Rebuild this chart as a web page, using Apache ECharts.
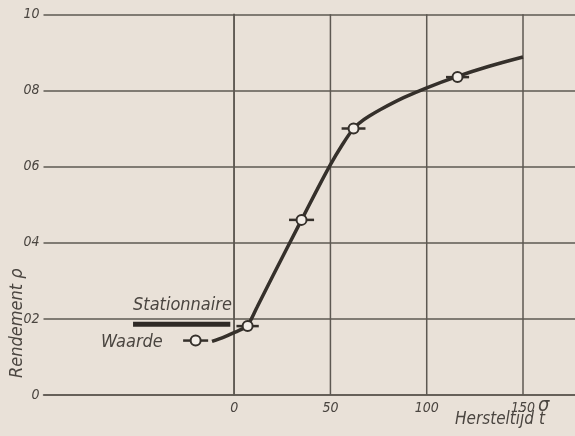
<!DOCTYPE html>
<html>
<head>
<meta charset="utf-8">
<script src="https://cdn.jsdelivr.net/npm/echarts@6/dist/echarts.min.js"></script>
<style>
  html, body { margin: 0; padding: 0; background: #e9e1d8; }
  #chart { width: 575px; height: 436px; }
</style>
</head>
<body>
<div id="chart"></div>
<script>
// Recovery curve: efficiency rho against recovery time t
const curveT   = [-11.5, -5,    0,     4,     7,     12,    20,    35,   42,    50,    56,    62,   66,    70,    76,    88,    100,   116,   132,   150];
const curveRho = [0.141, 0.153, 0.164, 0.173, 0.183, 0.232, 0.312, 0.46, 0.529, 0.605, 0.656, 0.70, 0.718, 0.732, 0.750, 0.781, 0.807, 0.837, 0.863, 0.888];

// Measured points with their horizontal spread in t
const pointT      = [-20,   7,     35,   62,   116];
const pointRho    = [0.143, 0.181, 0.46, 0.70, 0.835];
const pointSpread = [6.5,   5.8,   6.5,  6.2,  6.0];

// Stationary value
const stationaryT   = [-52.5, -2];
const stationaryRho = 0.186;

// Axis ticks
const xTickValues = [0, 50, 100, 150];
const yTickValues = [0, 0.2, 0.4, 0.6, 0.8, 1.0];
const yTickLabels = ['0', '02', '04', '06', '08', '10'];

const ink = '#35302b';
const gridInk = '#5d5852';
const textInk = '#4a4540';
const font = "'Liberation Sans Narrow', 'DejaVu Sans Condensed', sans-serif";

const chart = echarts.init(document.getElementById('chart'));

chart.setOption({
  backgroundColor: '#e9e1d8',
  animation: false,
  grid: { left: 43.5, right: 0, top: 14.3, bottom: 41, containLabel: false },
  xAxis: {
    type: 'value',
    min: -99,
    max: 177,
    axisLine: { show: true, lineStyle: { color: gridInk, width: 1.5 } },
    axisTick: { show: false },
    splitLine: { show: false },
    axisLabel: {
      show: true,
      margin: 6,
      color: textInk,
      fontFamily: font,
      fontStyle: 'italic',
      fontSize: 14,
      showMinLabel: false,
      showMaxLabel: false,
      formatter: v => (xTickValues.indexOf(v) >= 0 ? String(v) : '')
    }
  },
  yAxis: {
    type: 'value',
    min: 0,
    max: 1,
    interval: 0.2,
    axisLine: { show: true, lineStyle: { color: gridInk, width: 1.5 } },
    axisTick: { show: false },
    splitLine: { show: true, lineStyle: { color: gridInk, width: 1.5 } },
    axisLabel: {
      margin: 4,
      color: textInk,
      fontFamily: font,
      fontStyle: 'italic',
      fontSize: 14,
      formatter: v => {
        const i = yTickValues.findIndex(t => Math.abs(t - v) < 1e-6);
        return i >= 0 ? yTickLabels[i] : '';
      }
    }
  },
  series: [
    {
      // vertical grid lines at the labelled times
      type: 'custom',
      z: 1,
      silent: true,
      data: xTickValues.map(v => [v]),
      encode: { x: 0 },
      renderItem: (params, api) => {
        const v = api.value(0);
        const a = api.coord([v, 0]);
        const b = api.coord([v, 1]);
        return {
          type: 'line',
          shape: { x1: a[0], y1: a[1], x2: b[0], y2: b[1] },
          style: { stroke: gridInk, lineWidth: 1.5 }
        };
      }
    },
    {
      name: 'Stationnaire waarde',
      type: 'line',
      z: 3,
      silent: true,
      showSymbol: false,
      data: stationaryT.map(t => [t, stationaryRho]),
      lineStyle: { color: '#2f2a26', width: 5, cap: 'butt' }
    },
    {
      name: 'Rendement',
      type: 'line',
      z: 3,
      silent: true,
      showSymbol: false,
      smooth: 0.35,
      data: curveT.map((t, i) => [t, curveRho[i]]),
      lineStyle: { color: ink, width: 3.5 }
    },
    {
      // horizontal spread of each measurement
      type: 'custom',
      z: 4,
      silent: true,
      data: pointT.map((t, i) => [t, pointRho[i], pointSpread[i]]),
      encode: { x: 0, y: 1 },
      renderItem: (params, api) => {
        const t = api.value(0), r = api.value(1), s = api.value(2);
        const a = api.coord([t - s, r]);
        const b = api.coord([t + s, r]);
        return {
          type: 'line',
          shape: { x1: a[0], y1: a[1], x2: b[0], y2: b[1] },
          style: { stroke: ink, lineWidth: 2.5 }
        };
      }
    },
    {
      type: 'scatter',
      z: 5,
      silent: true,
      symbol: 'circle',
      symbolSize: 10,
      data: pointT.map((t, i) => [t, pointRho[i]]),
      itemStyle: { color: '#f3eee8', borderColor: ink, borderWidth: 2, opacity: 1 }
    }
  ],
  graphic: [
    {
      type: 'text', left: 133, top: 296,
      style: { text: 'Stationnaire', fill: textInk, font: `italic 18px ${font}` }
    },
    {
      type: 'text', left: 101, top: 333,
      style: { text: 'Waarde', fill: textInk, font: `italic 18px ${font}` }
    },
    {
      type: 'text', x: 8, y: 378, rotation: Math.PI / 2,
      style: { text: 'Rendement ρ', fill: textInk, font: `italic 18px ${font}`, verticalAlign: 'top', align: 'left' },
      originX: 0, originY: 0
    },
    {
      type: 'text', left: 538, top: 396,
      style: { text: 'σ', fill: textInk, font: `italic 20px ${font}` }
    },
    {
      type: 'text', left: 455, top: 411,
      style: { text: 'Hersteltijd t', fill: textInk, font: `italic 17px ${font}` }
    }
  ]
});
</script>
</body>
</html>
